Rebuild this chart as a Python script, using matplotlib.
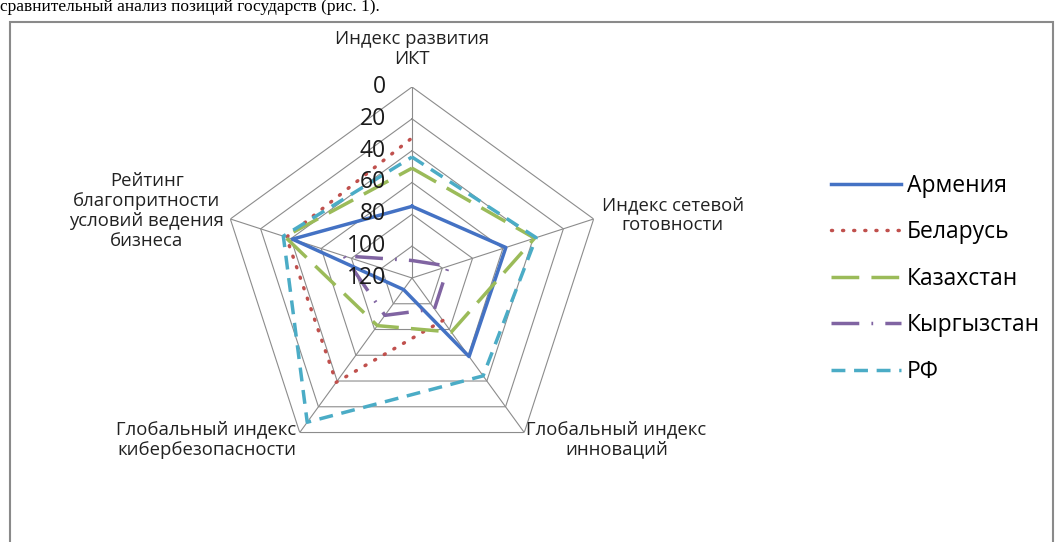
import numpy as np
import matplotlib
matplotlib.use("Agg")
import matplotlib.pyplot as plt
from matplotlib.patches import Rectangle
from matplotlib.transforms import offset_copy

plt.rcParams['font.family'] = ['Open Sans', 'DejaVu Sans']

# оси (по часовой стрелке, начиная сверху)
categories = ['Индекс развития\nИКТ',
              'Индекс сетевой\nготовности',
              'Глобальный индекс\nинноваций',
              'Глобальный индекс\nкибербезопасности',
              'Рейтинг\nблагопритности\nусловий ведения\nбизнеса']

# места в рейтингах
armenia = [75, 58, 59, 111, 41]
belarus = [32, np.nan, 87, 39, 37]
kazakhstan = [51, 39, 78, 83, 36]
kyrgyzstan = [109, 96, 96, 91, 75]
russia = [44, 38, 44, 8, 35]

r_ticks = [0, 20, 40, 60, 80, 100, 120]

series = [
    ('Армения', armenia, '#4472C4', '-'),
    ('Беларусь', belarus, '#C0504D', (0, (0.3, 2.9))),
    ('Казахстан', kazakhstan, '#9BBB59', (0, (8, 3.5))),
    ('Кыргызстан', kyrgyzstan, '#8064A2', (0, (8, 3.5, 0.5, 3.5))),
    ('РФ', russia, '#4BACC6', (0, (4, 2.5))),
]

W, H = 1055, 542
fig = plt.figure(figsize=(W / 100, H / 100), dpi=100)
fig.patch.set_facecolor('white')

# рамка вокруг диаграммы
fig.patches.append(Rectangle((10 / W, -0.1), 1043 / W, 1.1 - 22 / H,
                             transform=fig.transFigure, fill=False,
                             edgecolor='#8a8a8a', lw=1.5))
# обрезанная строка текста над рисунком
fig.text(0.0, 1 - 11 / H, 'сравнительный анализ позиций государств (рис. 1).',
         family='Liberation Serif', fontsize=12.5, va='baseline', ha='left')

cx, cy, R = 412, 542 - 278, 191
ax = fig.add_axes([(cx - R) / W, (cy - R) / H, 2 * R / W, 2 * R / H],
                  projection='polar')
ax.set_theta_zero_location('N')
ax.set_theta_direction(-1)
ax.set_ylim(120, 0)
ax.set_facecolor('none')
ax.grid(False)
ax.set_xticks([])
ax.set_yticks([])
ax.spines['polar'].set_visible(False)

n = len(categories)
angles = np.linspace(0, 2 * np.pi, n, endpoint=False)
ang_c = np.append(angles, angles[0])

# пятиугольная сетка
for r in r_ticks[:-1]:
    ax.plot(ang_c, [r] * (n + 1), color='#8c8c8c', lw=0.8, zorder=1)
for a in angles:
    ax.plot([a, a], [120, 0], color='#8c8c8c', lw=0.8, zorder=1)

# подписи шкалы
tr = offset_copy(ax.transData, fig=fig, x=-26, y=0, units='dots')
for r in r_ticks:
    ax.text(0, r, str(r), transform=tr, ha='right', va='center',
            fontsize=16.5, color='#1a1a1a', zorder=5)

for name, vals, col, ls in series:
    v = np.append(vals, vals[0])
    ax.plot(ang_c, v, color=col, linestyle=ls, lw=2.5, label=name,
            dash_capstyle='round' if name == 'Беларусь' else 'butt',
            zorder=3)

# подписи осей
label_pos = [((0, 19), 'center', 'bottom'),
             ((8, 4), 'left', 'center'),
             ((2, -7), 'left', 'center'),
             ((-3, -7), 'right', 'center'),
             ((-6, 8), 'right', 'center')]
for a, lab, (off, ha, va) in zip(angles, categories, label_pos):
    ax.annotate(lab, xy=(a, 0), xycoords='data', xytext=off,
                textcoords='offset pixels', ha=ha, va=va,
                multialignment='center', fontsize=13.3, color='#222222',
                linespacing=1.15, annotation_clip=False)

fig.legend(loc='upper left', bbox_to_anchor=(831 / W, 1 - 174 / H),
           frameon=False, fontsize=16.5, handlelength=3.05,
           handletextpad=0.26, labelspacing=0.98, borderpad=0,
           borderaxespad=0)

fig.savefig('out.png', dpi=100, facecolor='white')
